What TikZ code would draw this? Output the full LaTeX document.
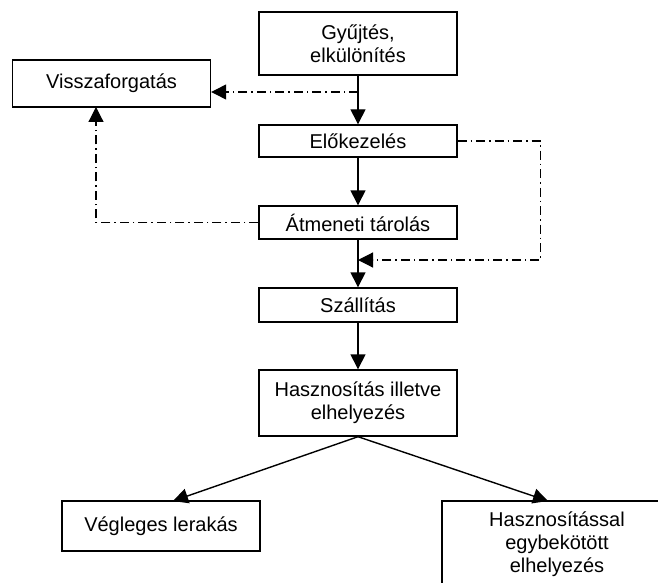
\documentclass[tikz,border=0pt]{standalone}
\usepackage{fontspec}
\setmainfont{Liberation Sans}
\usetikzlibrary{arrows.meta}
\begin{document}
\begin{tikzpicture}[x=1pt,y=-1pt,
  box/.style={draw,line width=1.4pt,inner sep=0pt,align=center,font=\fontsize{20}{23}\selectfont},
  flow/.style={line width=1.4pt,-{Triangle[width=15pt,length=15pt]}},
  dd/.style={line width=1.2pt,dash pattern=on 9pt off 4pt on 1.5pt off 4pt,-{Triangle[width=15pt,length=15pt]}},
  ddn/.style={line width=1.2pt,dash pattern=on 9pt off 4pt on 1.5pt off 4pt}]
\useasboundingbox[clip] (0,0) rectangle (658,583);
\node[box,minimum width=198pt,minimum height=63pt] (g) at (358,43.5) {Gyűjtés,\\elkülönítés};
\node[box,minimum width=198pt,minimum height=47pt] (v) at (111.5,83.5) {Visszaforgatás};
\node[box,minimum width=198pt,minimum height=32pt] (e) at (358,141) {Előkezelés};
\node[box,minimum width=198pt,minimum height=33pt] (a) at (358,222.5) {Átmeneti tárolás};
\node[box,minimum width=198pt,minimum height=34pt] (s) at (358,305) {Szállítás};
\node[box,minimum width=198pt,minimum height=66pt] (h) at (358,403) {Hasznosítás illetve\\elhelyezés};
\node[box,minimum width=198pt,minimum height=50pt] (vl) at (161,526) {Végleges lerakás};
\node[box,minimum width=230pt,minimum height=86pt] (hs) at (557,544) {Hasznosítással\\egybekötött\\elhelyezés};
\coordinate (d1) at (358,92);
\coordinate (vb) at (96,107);
\coordinate (m) at (358,260);
\coordinate (vlt) at (173,501);
\coordinate (hst) at (548,501);
\draw[flow] (g) -- (e);
\draw[flow] (e) -- (a);
\draw[flow] (a) -- (s);
\draw[flow] (s) -- (h);
\draw[flow] (h.south) -- (vlt);
\draw[flow] (h.south) -- (hst);
\draw[dd] (d1) -- (d1 -| v.east);
\draw[dd] (a.west) -| (vb);
\draw[dd] (e.east) -- ++(83,0) |- (m);
\end{tikzpicture}
\end{document}
